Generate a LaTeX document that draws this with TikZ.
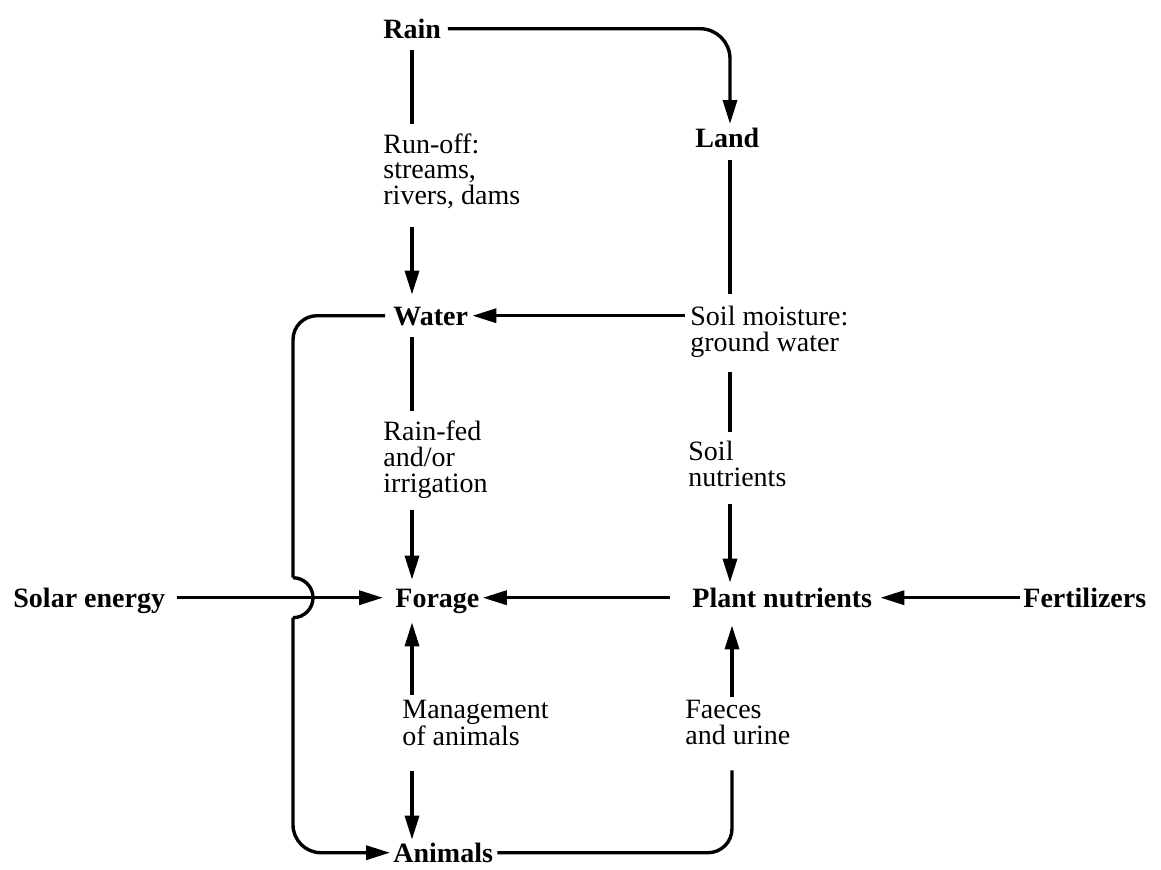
\documentclass[tikz,border=0pt]{standalone}
\usepackage{fontspec}
\setmainfont{Liberation Serif}
\usetikzlibrary{arrows.meta,calc}
\newcommand{\mlines}[1]{\begin{tabular}[t]{@{}l@{}}#1\end{tabular}}
\tikzset{
  lbl/.style={inner sep=0pt, anchor=base west, font=\fontsize{14}{12.5}\selectfont\bfseries, text height=9.3pt, text depth=0pt},
  txt/.style={inner sep=0pt, anchor=base west, font=\fontsize{14}{12.5}\selectfont},
  ln/.style={line width=1.7pt},
  arr/.style={ln, -{Triangle[length=12pt,width=7pt]}},
}
\begin{document}
\begin{tikzpicture}[x=0.5pt,y=-0.5pt]
\useasboundingbox (0,0) rectangle (1161,869);
\coordinate (xL) at (412,0);
\coordinate (xR) at (730,0);
\coordinate (xB) at (293,0);
\coordinate (xF) at (732,0);

\node[lbl] (rain) at (383,38) {Rain};
\node[lbl] (land) at (695,147) {Land};
\node[txt] (runoff) at (383,153) {\mlines{Run-off:\\streams,\\rivers, dams}};
\node[lbl] (water) at (393,325) {Water};
\node[txt] (soilm) at (690,325) {\mlines{Soil moisture:\\ground water}};
\node[txt] (rainfed) at (383,440) {\mlines{Rain-fed\\and/or\\irrigation}};
\node[txt] (soiln) at (688,460) {\mlines{Soil\\nutrients}};
\node[lbl] (solar) at (13,607) {Solar energy};
\node[lbl] (forage) at (395,607) {Forage};
\node[lbl] (plant) at (692,607) {Plant nutrients};
\node[lbl] (fert) at (1023,607) {Fertilizers};
\node[txt] (mgmt) at (402,718) {\mlines{Management\\of animals}};
\node[txt] (faeces) at (685,718) {\mlines{Faeces\\and urine}};
\node[lbl] (animals) at (393,862) {Animals};

% Rain -> Land
\draw[arr, rounded corners=15pt, shorten <=3.2pt, shorten >=2pt] (rain.east) -| (land.north -| xR);
% Rain -> Run-off -> Water
\draw[ln, shorten <=6pt, shorten >=4.5pt] (rain.south -| xL) -- (runoff.north -| xL);
\draw[arr, shorten <=7.25pt, shorten >=5.7pt] (runoff.south -| xL) -- (water.north -| xL);
% Soil moisture -> Water
\draw[arr, shorten <=2.5pt, shorten >=2pt] (soilm.base west |- water.east) -- (water.east);
% Water -> Animals (bracket with bump)
\draw[ln, rounded corners=12pt, shorten <=4pt] (water.west) -- (water.west -| xB) -- ($(solar.east -| xB)+(0,-20)$);
\draw[ln] ($(solar.east -| xB)+(0,-20)$) arc[start angle=90, end angle=-90, radius=10pt];
\draw[arr, rounded corners=14pt, shorten >=1.5pt] ($(solar.east -| xB)+(0,20)$) -- (animals.west -| xB) -- (animals.west);
% Water -> Rain-fed -> Forage
\draw[ln, shorten <=6pt, shorten >=4.5pt] (water.south -| xL) -- (rainfed.north -| xL);
\draw[arr, shorten <=4.75pt, shorten >=4.2pt] (rainfed.south -| xL) -- (forage.north -| xL);
% Land -> Soil moisture -> Soil nutrients -> Plant nutrients
\draw[ln, shorten <=6.5pt, shorten >=5.5pt] (land.south -| xR) -- (soilm.north -| xR);
\draw[ln, shorten <=6.25pt, shorten >=4pt] (soilm.south -| xR) -- (soiln.north -| xR);
\draw[arr, shorten <=5.25pt, shorten >=2.7pt] (soiln.south -| xR) -- (plant.north -| xR);
% Horizontal row
\draw[arr, shorten <=1.5pt, shorten >=4pt] (fert.west) -- (plant.east);
\draw[arr, shorten <=11pt, shorten >=1.5pt] (plant.west) -- (forage.east);
\draw[arr, shorten <=6pt, shorten >=6pt] (solar.east) -- (forage.west);
% Management
\draw[arr, shorten <=2.2pt, shorten >=7.5pt] (mgmt.north -| xL) -- (forage.south -| xL);
\draw[arr, shorten <=8.75pt, shorten >=1.7pt] (mgmt.south -| xL) -- (animals.north -| xL);
% Faeces
\draw[arr, shorten <=1.2pt, shorten >=9pt] (faeces.north -| xF) -- (plant.south -| xF);
\draw[ln, rounded corners=12pt, shorten <=2pt, shorten >=8.75pt] (animals.east) -| (faeces.south -| xF);
\end{tikzpicture}
\end{document}
